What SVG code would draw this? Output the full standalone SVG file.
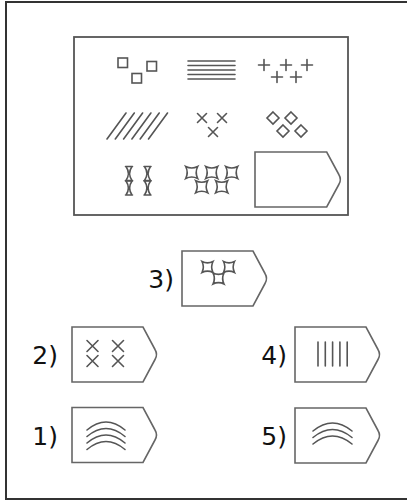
<svg xmlns="http://www.w3.org/2000/svg" xmlns:xlink="http://www.w3.org/1999/xlink" width="407" height="501" viewBox="0 0 407 501">
<style>
.ln{stroke:#555;stroke-width:1.6;fill:none;stroke-linecap:round}
.tag{stroke:#666;stroke-width:1.6;fill:#fff}
.lab{font-family:"DejaVu Sans","Liberation Sans",sans-serif;font-size:25px;fill:#111;text-anchor:end}
</style>
<defs>
<path id="tagp" d="M0,0 H71 L83,22.5 Q86,27.5 83,32.5 L71,55 H0 Z"/>
<path id="cs" d="M-5.5,-5.5 Q0,-2.8 5.5,-5.5 Q2.8,0 5.5,5.5 Q0,2.8 -5.5,5.5 Q-2.8,0 -5.5,-5.5Z"/>
<path id="cb" d="M-6,-6 Q0,-3 6,-6 Q3,0 6,6 Q0,3 -6,6 Q-3,0 -6,-6Z"/>
<path id="hg" d="M-3.5,-7 H3.5 M-3.5,7 H3.5 M-3,-7 Q1.8,0 -3,7 M3,-7 Q-1.8,0 3,7"/>
<path id="xx" d="M-4.5,-4.5 L4.5,4.5 M4.5,-4.5 L-4.5,4.5"/>
<path id="xb" d="M-5.5,-5.5 L5.5,5.5 M5.5,-5.5 L-5.5,5.5"/>
<path id="pl" d="M-5.5,0 H5.5 M0,-5.5 V5.5"/>
<path id="dm" d="M0,-6 L6,0 L0,6 L-6,0 Z"/>
</defs>
<rect x="6" y="2" width="410" height="497" fill="#fff" stroke="#333" stroke-width="2"/>
<g id="matrix">
<rect x="74" y="37" width="274" height="178" fill="none" stroke="#555" stroke-width="1.8"/>
<g id="cell-squares" class="ln">
<rect x="118" y="58" width="9.5" height="9.5"/>
<rect x="132" y="73.5" width="9.5" height="9.5"/>
<rect x="147" y="61.5" width="9.5" height="9.5"/>
</g>
<g id="cell-hlines" class="ln">
<path d="M188,61 H235 M188,65.5 H235 M188,70 H235 M188,74.5 H235 M188,79 H235"/>
</g>
<g id="cell-plus" class="ln">
<use xlink:href="#pl" x="264" y="65"/><use xlink:href="#pl" x="286" y="65"/><use xlink:href="#pl" x="307" y="65"/>
<use xlink:href="#pl" x="277" y="77"/><use xlink:href="#pl" x="296" y="77"/>
</g>
<g id="cell-diag" class="ln">
<path d="M107,139 L126,113 M115.3,139 L134.3,113 M123.6,139 L142.6,113 M131.9,139 L150.9,113 M140.2,139 L159.2,113 M148.5,139 L167.5,113"/>
</g>
<g id="cell-x" class="ln">
<use xlink:href="#xx" x="202" y="118"/><use xlink:href="#xx" x="222" y="118"/><use xlink:href="#xx" x="213" y="132"/>
</g>
<g id="cell-diamonds" class="ln">
<use xlink:href="#dm" x="273" y="118"/><use xlink:href="#dm" x="291" y="118"/>
<use xlink:href="#dm" x="283" y="131"/><use xlink:href="#dm" x="301" y="131"/>
</g>
<g id="cell-hourglass" class="ln">
<use xlink:href="#hg" x="129" y="173.5"/><use xlink:href="#hg" x="147.5" y="173.5"/>
<use xlink:href="#hg" x="129" y="188"/><use xlink:href="#hg" x="147.5" y="188"/>
</g>
<g id="cell-stars" class="ln">
<use xlink:href="#cb" x="191.7" y="172.5"/><use xlink:href="#cb" x="211.7" y="172.5"/><use xlink:href="#cb" x="231.7" y="172.5"/>
<use xlink:href="#cb" x="201.7" y="186.7"/><use xlink:href="#cb" x="221.7" y="186.7"/>
</g>
<g id="cell-blank">
<use xlink:href="#tagp" class="tag" transform="translate(255,152) scale(1.01,1)"/>
</g>
</g>
<g id="opt3">
<text class="lab" x="174" y="287.5">3)</text>
<use xlink:href="#tagp" class="tag" x="182" y="251"/>
<g class="ln"><use xlink:href="#cs" x="207.5" y="267"/><use xlink:href="#cs" x="229" y="267"/><use xlink:href="#cs" x="218.5" y="278.5"/></g>
</g>
<g id="opt2">
<text class="lab" x="58" y="364">2)</text>
<use xlink:href="#tagp" class="tag" x="72" y="327"/>
<g class="ln"><use xlink:href="#xb" x="92.5" y="346"/><use xlink:href="#xb" x="118" y="346"/><use xlink:href="#xb" x="92.5" y="361"/><use xlink:href="#xb" x="118" y="361"/></g>
</g>
<g id="opt4">
<text class="lab" x="287" y="364">4)</text>
<use xlink:href="#tagp" class="tag" x="295" y="327"/>
<path class="ln" d="M318,342 V366 M325.3,342 V366 M332.6,342 V366 M339.9,342 V366 M347.2,342 V366"/>
</g>
<g id="opt1">
<text class="lab" x="58" y="444.5">1)</text>
<use xlink:href="#tagp" class="tag" x="72" y="407.5"/>
<path class="ln" d="M87,430 Q106,414 125,430 M87,436.5 Q106,420.5 125,436.5 M87,443 Q106,427 125,443 M87,449.5 Q106,433.5 125,449.5"/>
</g>
<g id="opt5">
<text class="lab" x="287" y="444.5">5)</text>
<use xlink:href="#tagp" class="tag" x="295" y="408"/>
<path class="ln" d="M313,431 Q332.5,415 352,431 M313,437.5 Q332.5,421.5 352,437.5 M313,444 Q332.5,428 352,444"/>
</g>
</svg>
